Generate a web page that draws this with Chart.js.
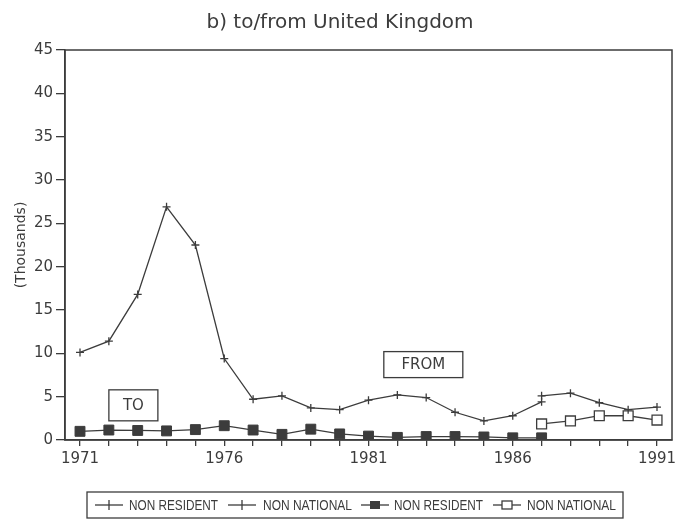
<!DOCTYPE html>
<html>
<head>
<meta charset="utf-8">
<script src="https://cdn.jsdelivr.net/npm/chart.js"></script>
<style>
  html, body { margin: 0; padding: 0; background: #fff; }
  #wrap { width: 677px; height: 521px; }
</style>
</head>
<body>
<div id="wrap"><canvas id="myChart" width="677" height="521"></canvas></div>
<script>
// values, in thousands
var years = [1971, 1972, 1973, 1974, 1975, 1976, 1977, 1978, 1979, 1980, 1981,
             1982, 1983, 1984, 1985, 1986, 1987, 1988, 1989, 1990, 1991];
var fromNonResident = [10.1, 11.4, 16.8, 26.9, 22.5, 9.4, 4.7, 5.1, 3.7, 3.5, 4.6,
                       5.2, 4.9, 3.2, 2.2, 2.8, 4.4, null, null, null, null];
var fromNonNational = [null, null, null, null, null, null, null, null, null, null, null,
                       null, null, null, null, null, 5.1, 5.4, 4.3, 3.5, 3.8];
var toNonResident = [1.0, 1.15, 1.1, 1.05, 1.2, 1.65, 1.15, 0.65, 1.25, 0.7, 0.45,
                     0.3, 0.4, 0.4, 0.35, 0.25, 0.25, null, null, null, null];
var toNonNational = [null, null, null, null, null, null, null, null, null, null, null,
                     null, null, null, null, null, 1.85, 2.2, 2.8, 2.8, 2.3];
var labelledYears = [1971, 1976, 1981, 1986, 1991];
var yTicks = [0, 5, 10, 15, 20, 25, 30, 35, 40, 45];
var legendLabels = ['NON RESIDENT', 'NON NATIONAL', 'NON RESIDENT', 'NON NATIONAL'];

var ink = '#3c3c3c';

function points(values) {
    var out = [];
    for (var i = 0; i < years.length; i++) {
        if (values[i] !== null) out.push({x: years[i], y: values[i]});
    }
    return out;
}

var decor = {
    id: 'decor',
    beforeDraw: function(chart) {
        var ctx = chart.ctx;
        ctx.save();
        ctx.fillStyle = '#fff';
        ctx.fillRect(0, 0, chart.width, chart.height);
        ctx.restore();
    },
    afterDraw: function(chart) {
        var ctx = chart.ctx;
        var a = chart.chartArea;
        var xs = chart.scales.x, ys = chart.scales.y;
        ctx.save();

        // frame round the plot
        ctx.strokeStyle = ink;
        ctx.lineWidth = 1.5;
        ctx.strokeRect(a.left, a.top, a.right - a.left, a.bottom - a.top);

        // title
        ctx.fillStyle = ink;
        ctx.font = '20px "DejaVu Sans"';
        ctx.textAlign = 'center';
        ctx.textBaseline = 'middle';
        ctx.fillText('b) to/from United Kingdom', 340, 23, 306);

        // y axis title
        ctx.save();
        ctx.translate(21, (a.top + a.bottom) / 2);
        ctx.rotate(-Math.PI / 2);
        ctx.font = '14px "DejaVu Sans"';
        ctx.fillText('(Thousands)', 0, 0);
        ctx.restore();

        // FROM / TO boxes
        ctx.lineWidth = 1.3;
        ctx.font = '15px "DejaVu Sans"';
        var boxes = [
            {text: 'FROM', x: 1982.9, y: 8.7, w: 79, h: 26},
            {text: 'TO', x: 1972.85, y: 4.0, w: 49, h: 31}
        ];
        boxes.forEach(function(b) {
            var cx = xs.getPixelForValue(b.x), cy = ys.getPixelForValue(b.y);
            ctx.fillStyle = '#fff';
            ctx.fillRect(cx - b.w / 2, cy - b.h / 2, b.w, b.h);
            ctx.strokeRect(cx - b.w / 2, cy - b.h / 2, b.w, b.h);
            ctx.fillStyle = ink;
            ctx.fillText(b.text, cx, cy + 1);
        });

        // legend
        ctx.lineWidth = 1.3;
        ctx.strokeRect(87, 492, 536, 26);
        var cy = 505;
        var samples = [95, 228, 361, 493];
        var textX = [129, 263, 394, 527];
        ctx.font = '14px "Liberation Sans Narrow", "Liberation Sans"';
        ctx.textAlign = 'left';
        for (var i = 0; i < 4; i++) {
            var sx = samples[i];
            ctx.strokeStyle = ink;
            ctx.beginPath();
            ctx.moveTo(sx, cy);
            ctx.lineTo(sx + 28, cy);
            ctx.stroke();
            var mx = sx + 14;
            if (i < 2) {
                ctx.beginPath();
                ctx.moveTo(mx, cy - 5);
                ctx.lineTo(mx, cy + 5);
                ctx.stroke();
            } else if (i == 2) {
                ctx.fillStyle = ink;
                ctx.fillRect(mx - 5, cy - 4, 10, 8);
            } else {
                ctx.fillStyle = '#fff';
                ctx.fillRect(mx - 5, cy - 4, 10, 8);
                ctx.strokeRect(mx - 5, cy - 4, 10, 8);
            }
            ctx.fillStyle = ink;
            ctx.fillText(legendLabels[i], textX[i], cy + 1, 89);
        }
        ctx.restore();
    }
};

var line = {borderColor: ink, borderWidth: 1.3, tension: 0, fill: false};

var ctx = document.getElementById('myChart').getContext('2d');
var myLineChart = new Chart(ctx, {
    type: 'line',
    data: {
        datasets: [
            Object.assign({label: 'FROM NON RESIDENT', data: points(fromNonResident),
                pointStyle: 'cross', pointRadius: 4, pointBorderColor: ink, pointBorderWidth: 1.3}, line),
            Object.assign({label: 'FROM NON NATIONAL', data: points(fromNonNational),
                pointStyle: 'cross', pointRadius: 4, pointBorderColor: ink, pointBorderWidth: 1.3}, line),
            Object.assign({label: 'TO NON RESIDENT', data: points(toNonResident),
                pointStyle: 'rect', pointRadius: 7, pointBackgroundColor: ink, pointBorderColor: ink,
                pointBorderWidth: 1}, line),
            Object.assign({label: 'TO NON NATIONAL', data: points(toNonNational),
                pointStyle: 'rect', pointRadius: 7, pointBackgroundColor: '#fff', pointBorderColor: ink,
                pointBorderWidth: 1.3}, line)
        ]
    },
    options: {
        responsive: false,
        animation: false,
        layout: {autoPadding: false, padding: {left: 0, right: 5, top: 50, bottom: 0}},
        plugins: {legend: {display: false}, title: {display: false}, tooltip: {enabled: false}},
        scales: {
            x: {
                type: 'linear',
                min: 1970.48,
                max: 1991.52,
                afterBuildTicks: function(scale) {
                    scale.ticks = years.map(function(v) { return {value: v}; });
                },
                afterFit: function(scale) {
                    scale.height = 81;
                    scale.paddingLeft = 0;
                    scale.paddingRight = 0;
                },
                border: {display: true, color: ink, width: 1.5},
                grid: {drawOnChartArea: false, color: ink, tickLength: 6, lineWidth: 1.3},
                ticks: {
                    autoSkip: false,
                    maxRotation: 0,
                    padding: 4,
                    color: ink,
                    font: {family: 'DejaVu Sans', size: 15},
                    callback: function(v) { return labelledYears.indexOf(v) >= 0 ? String(v) : ''; }
                }
            },
            y: {
                min: 0,
                max: 45,
                afterBuildTicks: function(scale) {
                    scale.ticks = yTicks.map(function(v) { return {value: v}; });
                },
                afterFit: function(scale) {
                    scale.width = 65;
                    scale.paddingTop = 0;
                    scale.paddingBottom = 0;
                },
                border: {display: true, color: ink, width: 1.5},
                grid: {drawOnChartArea: false, color: ink, tickLength: 9, lineWidth: 1.3},
                ticks: {
                    padding: 3,
                    color: ink,
                    font: {family: 'DejaVu Sans', size: 15}
                }
            }
        }
    },
    plugins: [decor]
});
</script>
</body>
</html>
